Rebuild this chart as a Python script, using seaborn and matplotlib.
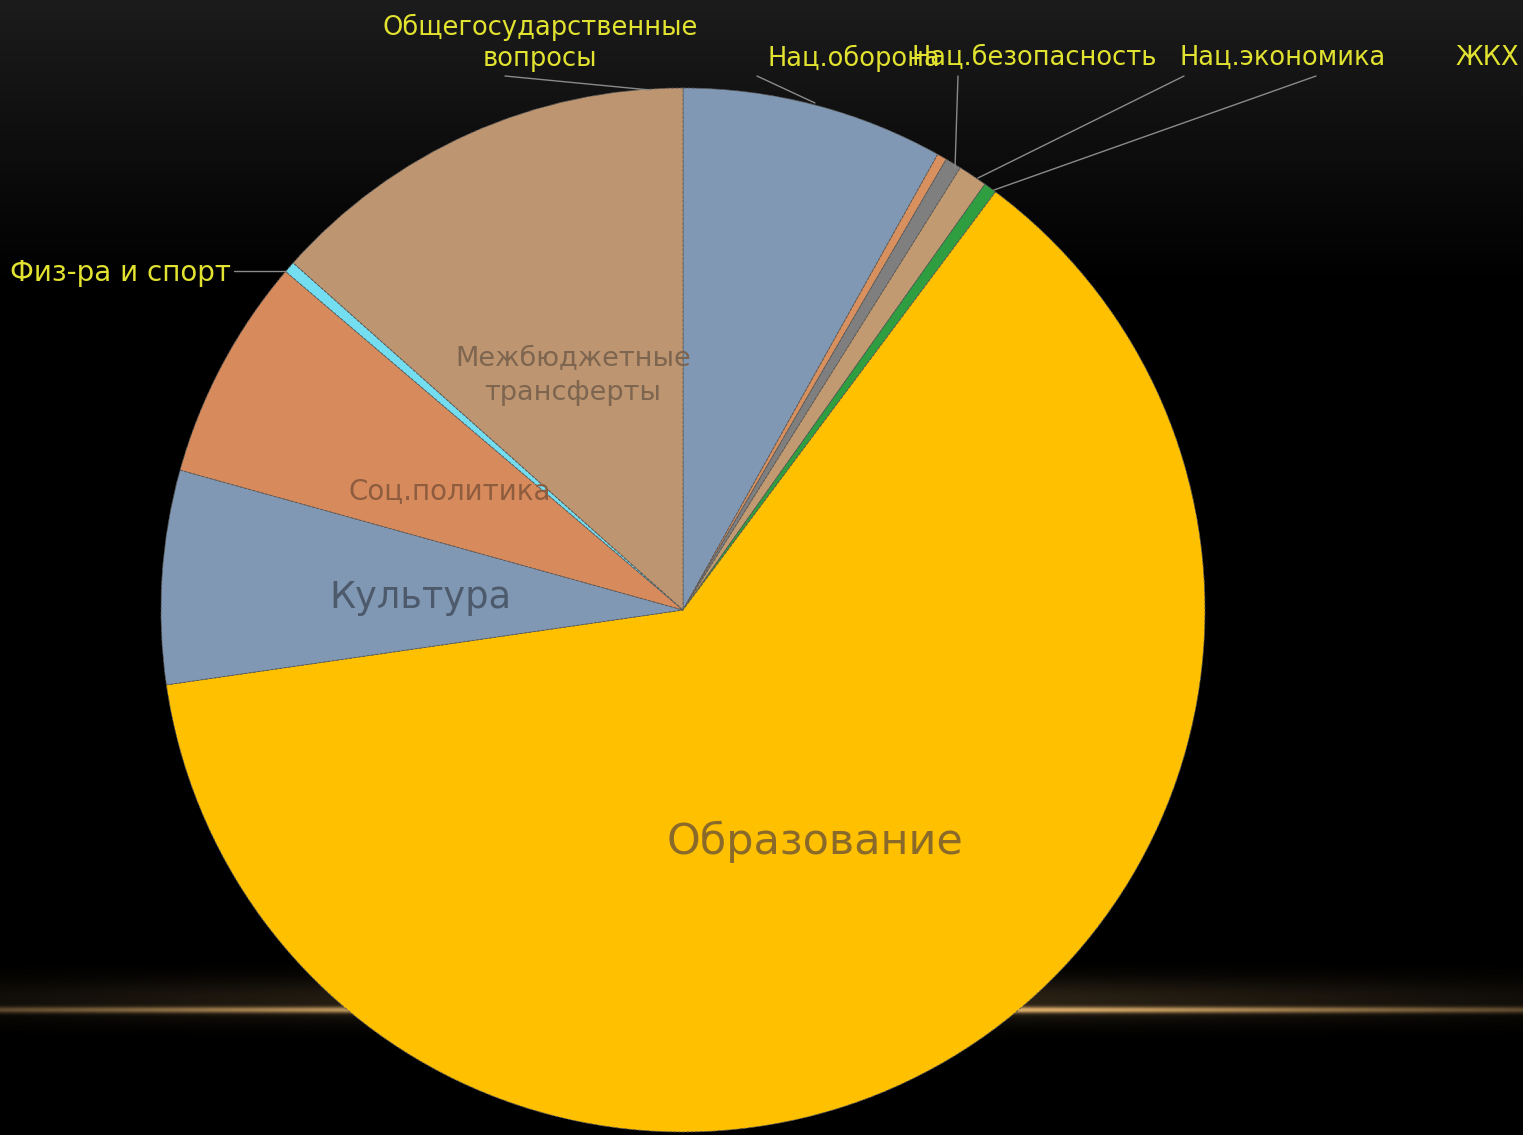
import numpy as np
import matplotlib
matplotlib.use("Agg")
import matplotlib.pyplot as plt
import seaborn as sns

sns.set_theme(style="dark")
plt.rcParams["font.family"] = ["DejaVu Sans"]

W, H = 1523, 1135

# shares of the budget, in percent
categories = [
    "Общегосударственные\nвопросы",
    "Нац.оборона",
    "Нац.безопасность",
    "Нац.экономика",
    "ЖКХ",
    "Образование",
    "Культура",
    "Соц.политика",
    "Физ-ра и спорт",
    "Межбюджетные\nтрансферты",
]
shares = [8.1, 0.3, 0.5, 0.9, 0.4, 62.4, 6.6, 6.9, 0.35, 13.4]
colors = [
    "#8098B3", "#D8905E", "#7F7F7F", "#C19A72", "#2E9E40",
    "#FFC000", "#8098B3", "#D78A5C", "#74DDF0", "#BD9570",
]

fig = plt.figure(figsize=(W / 100, H / 100), dpi=100)
ax = fig.add_axes([0, 0, 1, 1])

# background: dark grey at the top fading to black
grad = np.clip(1 - np.linspace(0, 1, H) / 0.25, 0, 1)
bg = np.zeros((H, 1, 3))
bg[:, 0, :] = (0.11 * grad)[:, None]
ax.imshow(bg, extent=(0, W, H, 0), aspect="auto", zorder=0, interpolation="bilinear")

# golden glow line near the bottom
gy = np.arange(960, 1050)
gx = np.arange(W)
across = np.exp(-((gx - 760) / 760.0) ** 2)
core = np.exp(-((gy - 1010) / 3.2) ** 2)
halo = 0.22 * np.exp(-((gy - 1000) / 22.0) ** 2)
alpha = np.clip(np.outer(core + halo, across), 0, 1)
glow = np.zeros((len(gy), W, 4))
glow[..., 0] = 0.86
glow[..., 1] = 0.68
glow[..., 2] = 0.42
glow[..., 3] = alpha
ax.imshow(glow, extent=(0, W, gy[-1], gy[0]), aspect="auto", zorder=1)

wedges, _ = ax.pie(
    shares,
    colors=colors,
    startangle=-90,
    counterclock=True,
    center=(683, 610),
    radius=522,
    frame=True,
    wedgeprops=dict(linewidth=0.6, edgecolor="#5a5a5a", linestyle="--"),
)
for w in wedges:
    w.set_zorder(2)

ax.set_xlim(0, W)
ax.set_ylim(H, 0)
ax.set_axis_off()

yellow = "#E2E230"
line_c = "#8a8a8a"

# outer labels with leader lines
outer = [
    (categories[0], 540, 43, "center", 18.5, [(505, 76), (650, 90)]),
    (categories[1], 768, 58, "left", 18.5, [(757, 76), (815, 103)]),
    (categories[2], 912, 58, "left", 18.5, [(958, 76), (955, 168)]),
    (categories[3], 1180, 58, "left", 18.5, [(1184, 76), (978, 178)]),
    (categories[4], 1455, 58, "left", 18.5, [(1316, 76), (994, 190)]),
    (categories[8], 10, 273, "left", 20, [(234, 271), (286, 271)]),
]
for text, x, y, ha, fs, pts in outer:
    xs, ys = zip(*pts)
    ax.plot(xs, ys, color=line_c, lw=1, zorder=3)
    ax.text(x, y, text, ha=ha, va="center", color=yellow, fontsize=fs,
            linespacing=1.25, zorder=4)

# inner labels
ax.text(573, 376, categories[9], ha="center", va="center", color="#7d6550",
        fontsize=19.5, linespacing=1.35, zorder=4)
ax.text(450, 491, categories[7], ha="center", va="center", color="#8e5c3e",
        fontsize=20, zorder=4)
ax.text(420, 597, categories[6], ha="center", va="center", color="#4d5a6b",
        fontsize=26.5, zorder=4)
ax.text(815, 842, categories[5], ha="center", va="center", color="#8a6a2a",
        fontsize=31, zorder=4)

fig.savefig("out.png", dpi=100, facecolor="black")
